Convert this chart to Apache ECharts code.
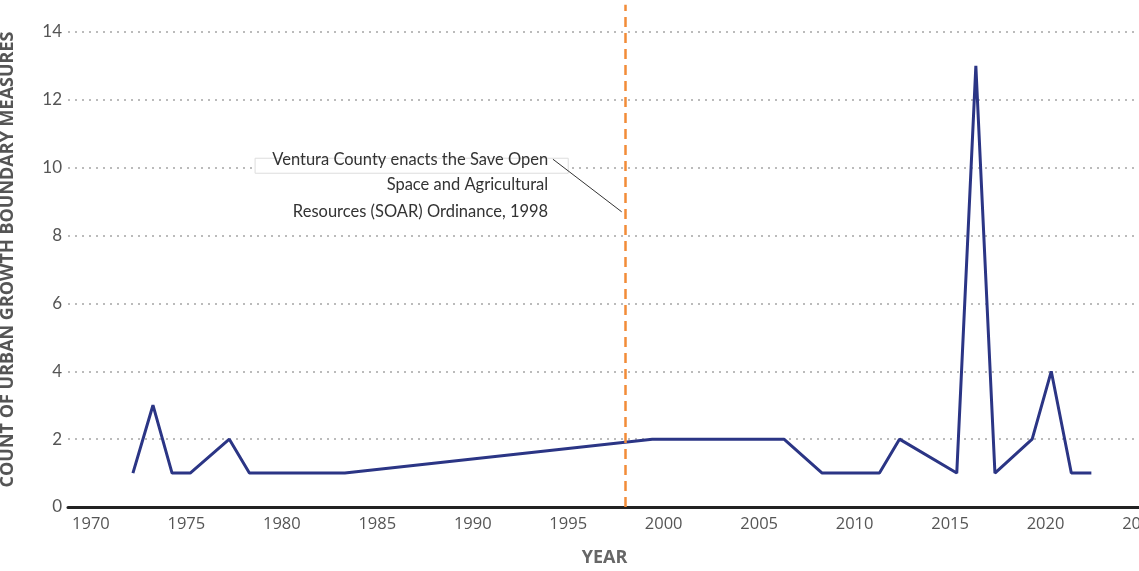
<!DOCTYPE html>
<html><head><meta charset="utf-8">
<script src="https://cdn.jsdelivr.net/npm/echarts@6/dist/echarts.min.js"></script>
<style>html,body{margin:0;padding:0;background:#fff}#c{width:1139px;height:571px}</style>
</head><body><div id="c"></div>
<script>
const years = [1972.2, 1973.25, 1974.25, 1975.2, 1977.25, 1978.3, 1983.3, 1999.4, 2006.3, 2008.3, 2011.3, 2012.35, 2015.35, 2016.35, 2017.35, 2019.3, 2020.3, 2021.35, 2022.4];
const counts = [1, 3, 1, 1, 2, 1, 1, 2, 2, 1, 1, 2, 1, 13, 1, 2, 4, 1, 1];
const xTickLabels = [1970, 1975, 1980, 1985, 1990, 1995, 2000, 2005, 2010, 2015, 2020, 2025];
const eventYear = 1998;
const annotationLines = ['Ventura County enacts the Save Open', 'Space and Agricultural', 'Resources (SOAR) Ordinance, 1998'];
const yTitle = 'COUNT OF URBAN GROWTH BOUNDARY MEASURES';
const xTitle = 'YEAR';

const chart = echarts.init(document.getElementById('c'));
const font = 'Lato, "Open Sans", sans-serif';
chart.setOption({
  animation: false,
  grid: { left: 68, right: -2, top: 32, bottom: 64, outerBoundsMode: 'none', containLabel: false },
  xAxis: {
    type: 'value', min: 1968.8, max: 2025,
    name: xTitle, nameLocation: 'middle', nameGap: 42,
    nameTextStyle: { color: '#666', fontSize: 18, fontWeight: 'bold', fontFamily: '"Open Sans", sans-serif' },
    axisLine: { show: true, lineStyle: { color: '#222', width: 3 } },
    axisTick: { show: false },
    splitLine: { show: false },
    axisLabel: { customValues: xTickLabels, color: '#555', fontSize: 16.5, fontFamily: '"Liberation Sans Narrow", "Open Sans", sans-serif', margin: 9, formatter: v => String(v) }
  },
  yAxis: {
    type: 'value', min: 0, max: 14, interval: 2,
    axisLine: { show: false }, axisTick: { show: false },
    axisLabel: { color: '#555', fontSize: 17, fontFamily: font, margin: 6 },
    splitLine: { show: true, lineStyle: { color: '#bbb', width: 2, type: [2, 5] } }
  },
  series: [{
    type: 'line', data: years.map((y, i) => [y, counts[i]]),
    symbol: 'none', lineStyle: { color: '#2B3585', width: 3 }, z: 3
  }]
});

function px(x, y) { return chart.convertToPixel({ gridIndex: 0 }, [x, y]); }
const p0 = px(1993.95, 10.25), p1 = px(1993.95, 9.5), p2 = px(1993.95, 8.7);
const boxL = px(1978.6, 0)[0], boxR = px(1995.0, 0)[0];
const lineA = px(1994.2, 10.25), lineB = px(1997.8, 8.7);
const ev0 = px(eventYear, 0);
const evTop = px(eventYear, 14.8);
const gridMidY = (px(1970, 0)[1] + px(1970, 14)[1]) / 2 - 10;
chart.setOption({
  graphic: [
    { type: 'line', shape: { x1: ev0[0], y1: ev0[1], x2: evTop[0], y2: evTop[1] }, style: { stroke: '#F28C38', lineWidth: 2.5, lineDash: [10, 6] }, z: 5 },
    { type: 'rect', shape: { x: boxL, y: p0[1] - 1, width: boxR - boxL, height: 15 }, style: { fill: '#fff', stroke: '#ddd', lineWidth: 1 }, z: 10 },
    { type: 'line', shape: { x1: lineA[0], y1: lineA[1], x2: lineB[0], y2: lineB[1] }, style: { stroke: '#333', lineWidth: 1 }, z: 11 },
    ...annotationLines.map((t, i) => ({
      type: 'text', x: [p0, p1, p2][i][0], y: [p0, p1, p2][i][1], z: 12,
      style: { text: t, align: 'right', verticalAlign: 'middle', fill: '#333', fontSize: 16.5, fontFamily: font }
    })),
    { type: 'text', x: 8, y: gridMidY, rotation: Math.PI / 2, z: 12,
      style: { text: yTitle, align: 'center', verticalAlign: 'middle', fill: '#555', fontSize: 18, fontWeight: 'bold', fontFamily: '"Open Sans", sans-serif' } }
  ]
});
</script></body></html>
